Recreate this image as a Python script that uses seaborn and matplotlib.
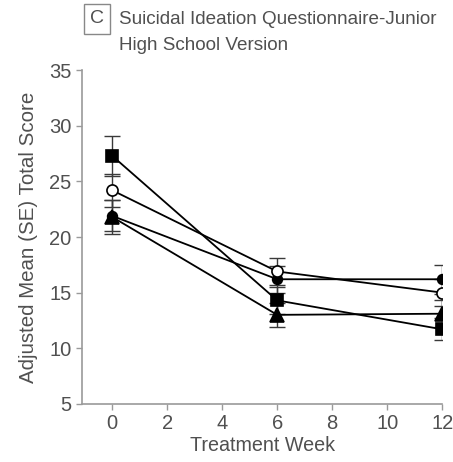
import matplotlib
matplotlib.use("Agg")
import matplotlib.pyplot as plt
import seaborn as sns
import pandas as pd

# Adjusted mean total score (SE) by treatment week for each arm
weeks = [0, 6, 12]
arm_square = [27.3, 14.3, 11.7]
arm_square_se = [1.8, 1.2, 1.0]
arm_open_circle = [24.2, 16.9, 15.0]
arm_open_circle_se = [1.5, 1.2, 1.2]
arm_triangle = [21.8, 13.0, 13.1]
arm_triangle_se = [1.5, 1.1, 1.2]
arm_filled_circle = [21.9, 16.2, 16.2]
arm_filled_circle_se = [1.4, 1.2, 1.3]

x_ticks = [0, 2, 4, 6, 8, 10, 12]
y_ticks = [5, 10, 15, 20, 25, 30, 35]

sns.set_theme(style="ticks")
plt.rcParams["font.family"] = ["Liberation Sans", "DejaVu Sans"]

text_color = "#505050"
spine_color = "#9a9a9a"

fig = plt.figure(figsize=(4.53, 4.62), dpi=100)
ax = fig.add_axes([0.181, 0.126, 0.795, 0.722])

arms = [
    ("filled circle", arm_filled_circle, arm_filled_circle_se, "o", "black", 7, 3),
    ("square", arm_square, arm_square_se, "s", "black", 8, 4),
    ("open circle", arm_open_circle, arm_open_circle_se, "o", "white", 8, 5),
    ("triangle", arm_triangle, arm_triangle_se, "^", "black", 9.5, 6),
]

for name, vals, se, marker, face, ms, z in arms:
    df = pd.DataFrame({"week": weeks, "score": vals})
    ax.errorbar(weeks, vals, yerr=se, fmt="none", ecolor="#3a3a3a",
                elinewidth=1.0, capsize=5.5, capthick=1.0, zorder=2)
    sns.lineplot(data=df, x="week", y="score", ax=ax, color="black",
                 linewidth=1.3, marker=marker, markersize=ms,
                 markerfacecolor=face, markeredgecolor="black",
                 markeredgewidth=1.2)
    ax.lines[-1].set_zorder(z)

ax.set_xlim(-1.1, 12)
ax.set_ylim(5, 35)
ax.set_xticks(x_ticks)
ax.set_yticks(y_ticks)
ax.tick_params(axis="both", colors=spine_color, labelcolor=text_color,
               labelsize=14.5, length=4, width=1)
sns.despine(ax=ax)
for side in ("left", "bottom"):
    ax.spines[side].set_color(spine_color)
    ax.spines[side].set_linewidth(1.2)

ax.set_xlabel("Treatment Week", fontsize=14.2, color=text_color, labelpad=2)
ax.set_ylabel("Adjusted Mean (SE) Total Score", fontsize=14.8,
              color=text_color, labelpad=8)

fig.text(0.214, 0.959, "C", fontsize=14, color=text_color, ha="center",
         va="center",
         bbox=dict(boxstyle="square,pad=0.32", facecolor="white",
                   edgecolor="#888888", linewidth=1))
fig.text(0.262, 0.976, "Suicidal Ideation Questionnaire-Junior\nHigh School Version",
         fontsize=13.6, color=text_color, ha="left", va="top",
         linespacing=1.65)

fig.savefig("out.png", dpi=100)
